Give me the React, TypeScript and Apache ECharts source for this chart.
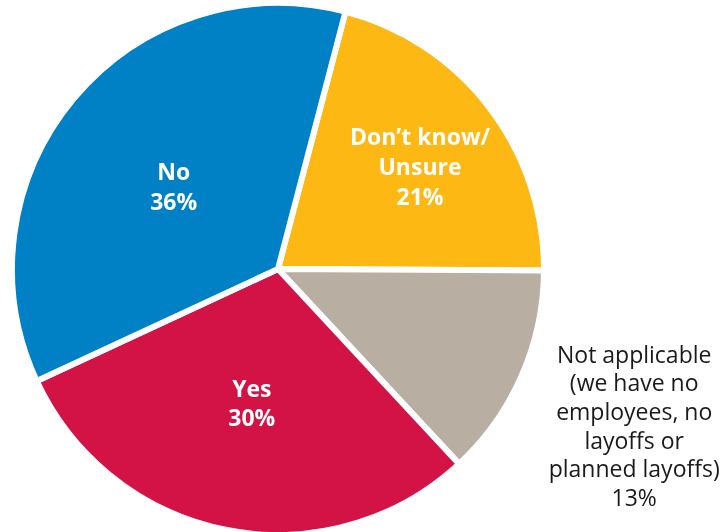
import React, { useEffect, useRef } from "react";
import * as echarts from "echarts";

const categories = [
  "Don\u2019t know/\nUnsure",
  "Not applicable\n(we have no\nemployees, no\nlayoffs or\nplanned layoffs)",
  "Yes",
  "No",
];
const values = [21, 13, 30, 36];
const colors = ["#FDB813", "#B8AEA2", "#D31245", "#0080C5"];
const labelColors = ["#ffffff", "#1a1a1a", "#ffffff", "#ffffff"];

const CENTER = [278, 269];
const START = 75.3;

function labelSeries(
  center: number[],
  radius: number[],
  showIndex: number,
  bold: boolean,
  lh: number
) {
  return {
    type: "pie",
    center,
    radius,
    startAngle: START,
    clockwise: true,
    silent: true,
    z: 5,
    labelLine: { show: false },
    itemStyle: { color: "rgba(0,0,0,0)", borderWidth: 0 },
    data: categories.map((name, i) => ({
      name,
      value: values[i],
      label: {
        show: i === showIndex,
        position: "inside",
        formatter: "{b}\n{c}%",
        color: labelColors[i],
        fontFamily: "Open Sans",
        fontSize: 23,
        fontWeight: bold ? "bold" : "normal",
        lineHeight: lh,
        align: "center",
        overflow: "none",
      },
    })),
  };
}

export default function App() {
  const ref = useRef<HTMLDivElement>(null);
  useEffect(() => {
    const chart = echarts.init(ref.current!, null, { renderer: "svg" });
    chart.setOption({
      animation: false,
      series: [
        {
          type: "pie",
          center: CENTER,
          radius: [0, 266],
          startAngle: START,
          clockwise: true,
          silent: true,
          itemStyle: { borderColor: "#ffffff", borderWidth: 6 },
          labelLine: { show: false },
          data: categories.map((name, i) => ({
            name,
            value: values[i],
            itemStyle: { color: colors[i] },
            label: { show: false },
          })),
        },
        labelSeries([278, 269], [0, 266], 2, true, 29),
        labelSeries([278, 273], [0, 266], 3, true, 29.5),
        labelSeries([278, 275], [86, 266], 0, true, 30),
        labelSeries([278, 269], [365, 407], 1, false, 28.6),
      ],
    });
    return () => chart.dispose();
  }, []);
  return (
    <div
      ref={ref}
      style={{ position: "fixed", left: 0, top: 0, width: 725, height: 532 }}
    />
  );
}
